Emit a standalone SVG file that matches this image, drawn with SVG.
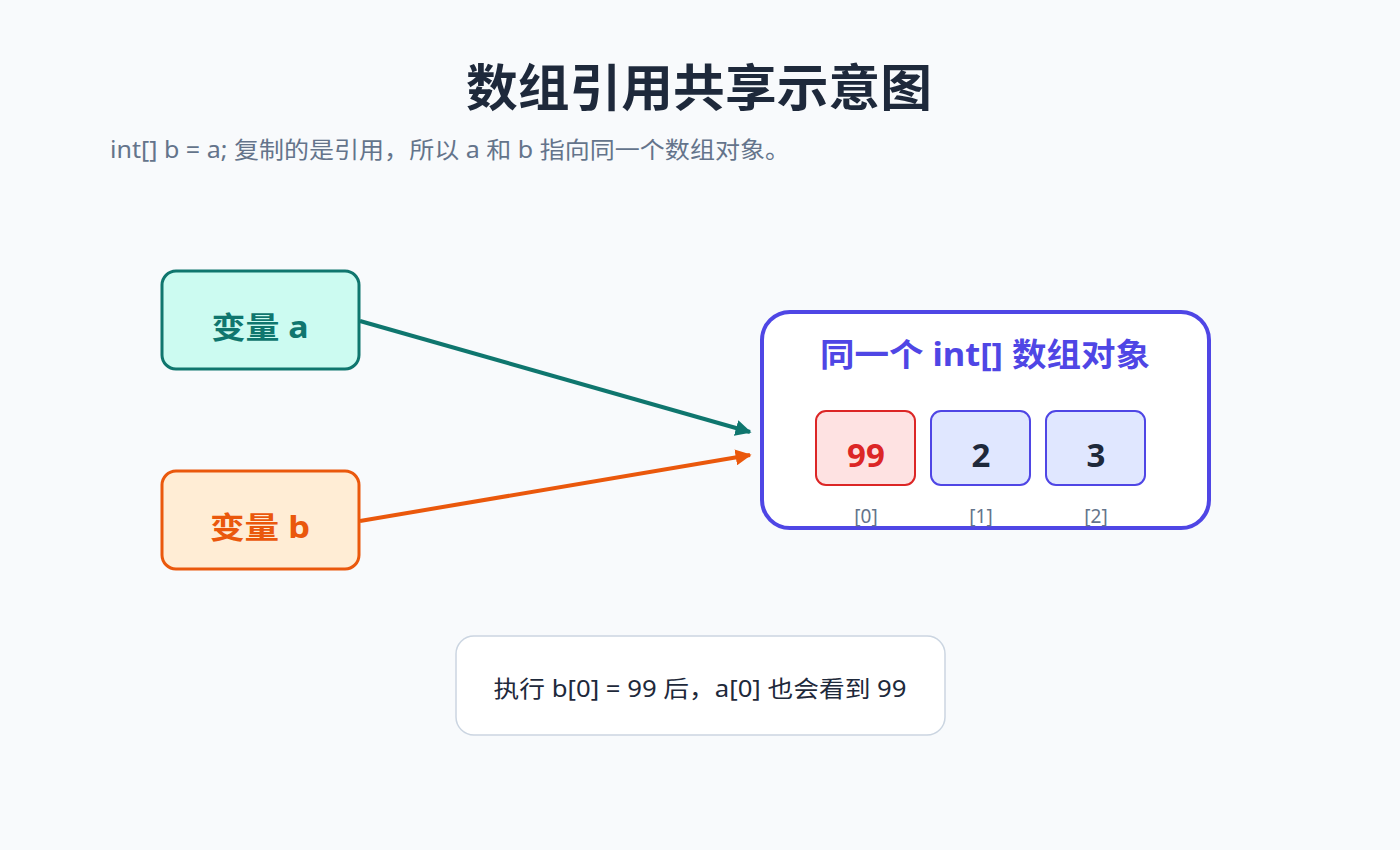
<svg xmlns="http://www.w3.org/2000/svg" width="1400" height="850" viewBox="0 0 1400 850">
<style>
text{font-family:"Noto Sans","Noto Sans CJK SC",sans-serif}
.title{font-size:50px;font-weight:700;fill:#1e293b;text-anchor:middle}
.sub{font-size:23px;fill:#64748b}
.var{font-size:30px;font-weight:700;text-anchor:middle}
.cell{font-size:33px;font-weight:700;text-anchor:middle}
.idx{font-size:19px;fill:#64748b;text-anchor:middle}
</style>
<defs>
<marker id="ha" viewBox="0 0 10 10" refX="9" refY="5" markerWidth="4" markerHeight="4" orient="auto" markerUnits="strokeWidth"><path d="M0,0 L10,5 L0,10 z" fill="#0f766e"/></marker>
<marker id="hb" viewBox="0 0 10 10" refX="9" refY="5" markerWidth="4" markerHeight="4" orient="auto" markerUnits="strokeWidth"><path d="M0,0 L10,5 L0,10 z" fill="#ea580c"/></marker>
</defs>
<rect width="1400" height="850" fill="#f8fafc"/>
<text class="title" x="699" y="106" textLength="466" lengthAdjust="spacingAndGlyphs">数组引用共享示意图</text>
<text class="sub" x="110" y="158" textLength="680" lengthAdjust="spacingAndGlyphs">int[] b = a; 复制的是引用，所以 a 和 b 指向同一个数组对象。</text>
<g id="connectors">
<line x1="360" y1="321" x2="750" y2="432" stroke="#0f766e" stroke-width="4" marker-end="url(#ha)"/>
<line x1="360" y1="521" x2="750" y2="455" stroke="#ea580c" stroke-width="4" marker-end="url(#hb)"/>
</g>
<g id="var-a">
<rect x="162" y="271" width="197" height="98" rx="14" fill="#ccfbf1" stroke="#0f766e" stroke-width="3"/>
<text class="var" x="260" y="338" fill="#0f766e" textLength="97" lengthAdjust="spacingAndGlyphs">变量 a</text>
</g>
<g id="var-b">
<rect x="162" y="471" width="197" height="98" rx="14" fill="#ffedd5" stroke="#ea580c" stroke-width="3"/>
<text class="var" x="260" y="538" fill="#ea580c" textLength="100" lengthAdjust="spacingAndGlyphs">变量 b</text>
</g>
<g id="array">
<rect x="762" y="312" width="447" height="216" rx="28" fill="#ffffff" stroke="#4f46e5" stroke-width="4"/>
<text x="985" y="366" font-size="32" font-weight="700" fill="#4f46e5" text-anchor="middle" textLength="330" lengthAdjust="spacingAndGlyphs">同一个 int[] 数组对象</text>
<rect x="816" y="411" width="99" height="74" rx="10" fill="#fee2e2" stroke="#dc2626" stroke-width="2"/>
<text class="cell" x="866" y="467" fill="#dc2626">99</text>
<rect x="931" y="411" width="99" height="74" rx="10" fill="#e0e7ff" stroke="#4f46e5" stroke-width="2"/>
<text class="cell" x="981" y="467" fill="#1e293b">2</text>
<rect x="1046" y="411" width="99" height="74" rx="10" fill="#e0e7ff" stroke="#4f46e5" stroke-width="2"/>
<text class="cell" x="1096" y="467" fill="#1e293b">3</text>
<text class="idx" x="866" y="523">[0]</text>
<text class="idx" x="981" y="523">[1]</text>
<text class="idx" x="1096" y="523">[2]</text>
</g>
<g id="note">
<rect x="456" y="636" width="489" height="99" rx="18" fill="#ffffff" stroke="#cbd5e1" stroke-width="1.5"/>
<text x="700" y="697" font-size="23" fill="#1e293b" text-anchor="middle" textLength="413" lengthAdjust="spacingAndGlyphs">执行 b[0] = 99 后，a[0] 也会看到 99</text>
</g>
</svg>
